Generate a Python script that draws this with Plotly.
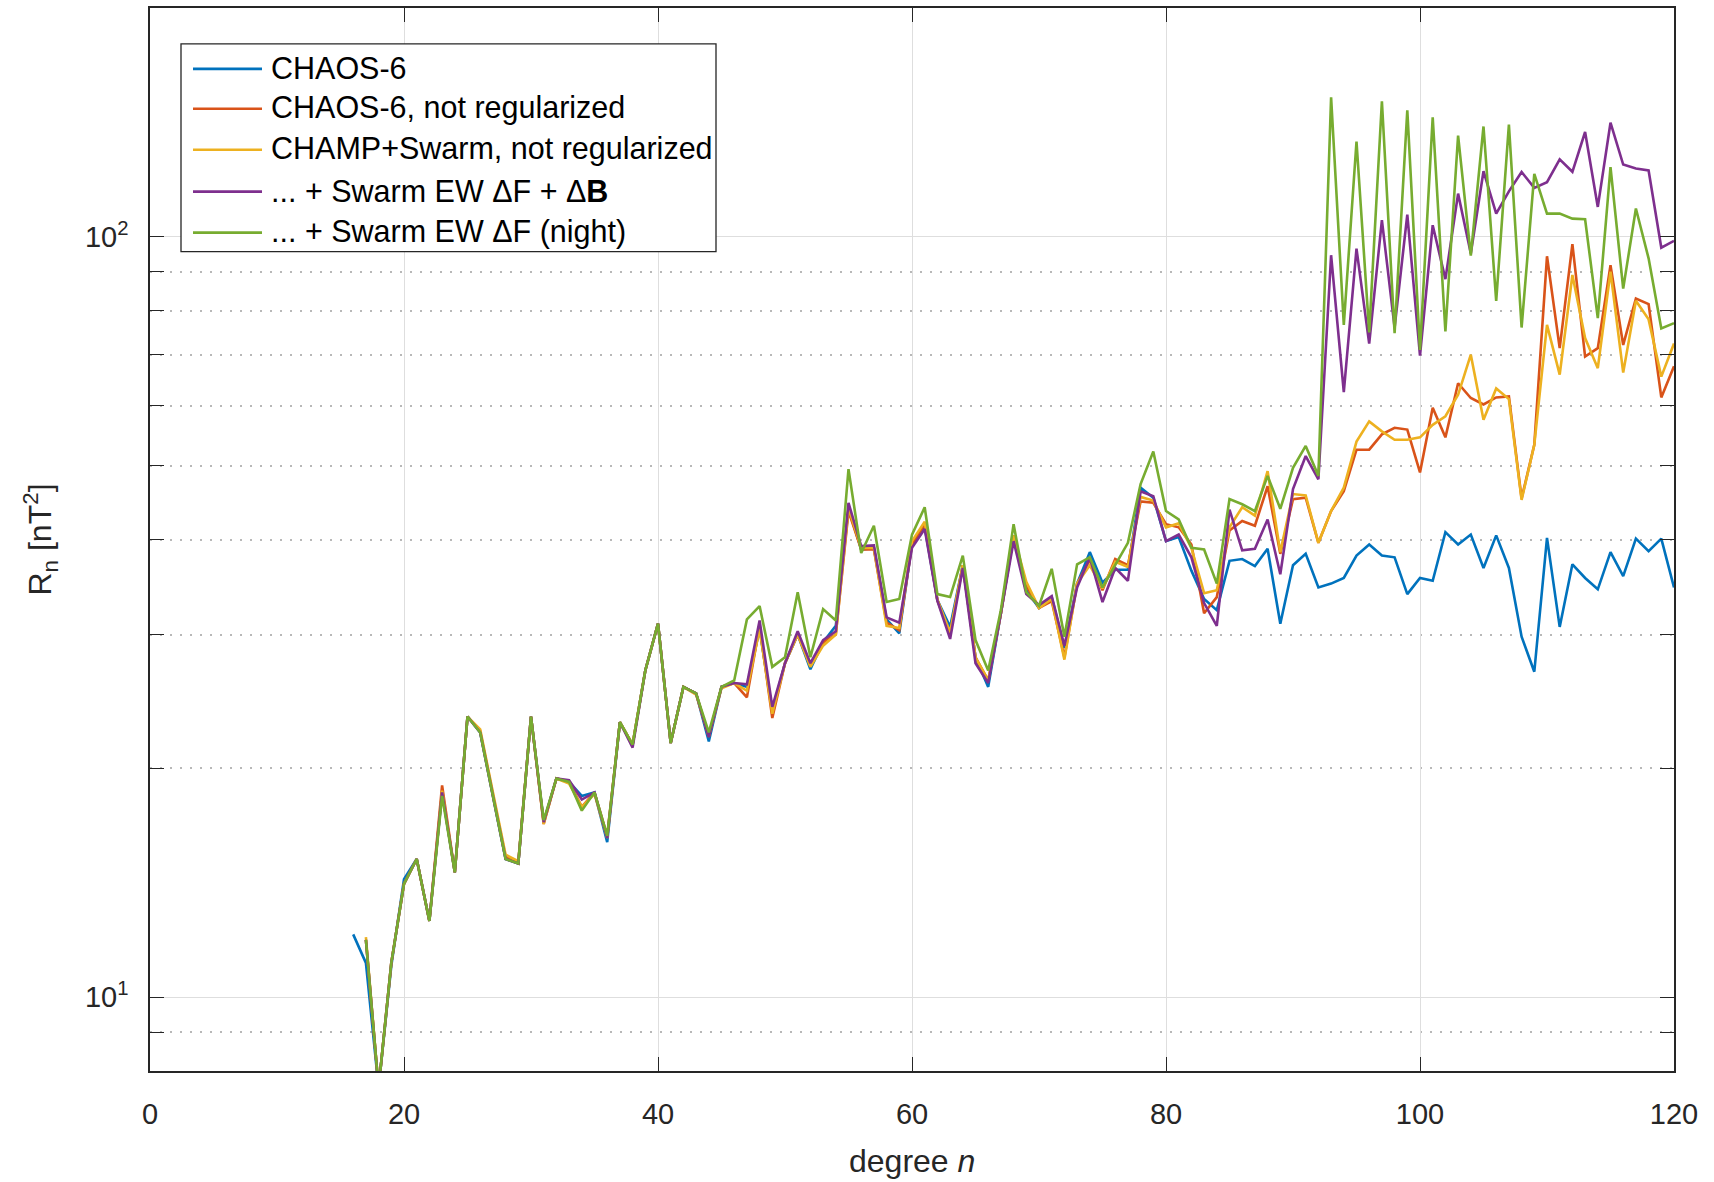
import plotly.graph_objects as go

# spherical harmonic degree
degree = list(range(16, 121))

# Lowes-Mauersberger spectra R_n [nT^2], n = 16 ... 120
chaos6 = [
    12.1, 11.1, 7.6, 11.0, 14.3, 15.2, 12.6, 18.6, 14.6, 23.4,
    22.3, 18.4, 15.2, 15.0, 23.4, 17.0, 19.4, 19.2, 18.4, 18.6,
    16.0, 23.0, 21.5, 26.9, 31.0, 21.6, 25.6, 25.1, 21.7, 25.6,
    25.9, 25.6, 30.5, 23.8, 27.5, 30.0, 27.0, 29.3, 30.8, 44.0,
    38.8, 39.0, 31.4, 30.1, 39.5, 41.5, 33.3, 30.7, 37.0, 28.0,
    25.6, 32.0, 40.5, 34.3, 32.5, 33.6, 28.8, 35.0, 38.5, 35.1,
    36.5, 36.5, 46.8, 45.4, 39.8, 40.3, 36.4, 33.4, 32.3, 37.5,
    37.7, 36.9, 38.9, 31.0, 37.0, 38.3, 34.6, 35.0, 35.6, 38.1,
    39.4, 38.1, 37.9, 33.9, 35.6, 35.3, 40.9, 39.4, 40.6, 36.7,
    40.5, 36.7, 29.8, 26.8, 40.2, 30.7, 37.1, 35.6, 34.4, 38.5,
    35.8, 40.1, 38.6, 40.1, 34.6,
]

chaos6_noreg = [
    None, 11.9, 7.6, 11.1, 14.1, 15.2, 12.6, 19.0, 14.6, 23.4,
    22.4, 18.5, 15.3, 15.0, 23.4, 16.9, 19.4, 19.2, 17.8, 18.6,
    16.3, 23.0, 21.5, 26.9, 31.0, 21.6, 25.6, 25.1, 22.0, 25.6,
    25.9, 24.8, 30.8, 23.3, 27.5, 30.0, 27.3, 29.3, 30.0, 43.6,
    38.8, 38.8, 31.1, 30.4, 39.4, 41.9, 33.3, 30.0, 37.0, 28.0,
    26.1, 32.0, 40.5, 34.8, 32.5, 33.2, 28.0, 35.0, 37.6, 34.3,
    37.7, 37.0, 44.9, 44.7, 41.9, 41.5, 39.4, 32.0, 33.6, 41.1,
    42.3, 41.7, 47.0, 38.3, 45.2, 45.4, 39.6, 43.6, 46.3, 52.5,
    52.5, 55.0, 56.1, 55.8, 49.0, 59.6, 54.5, 64.2, 61.4, 60.2,
    61.5, 61.7, 45.3, 53.3, 94.3, 71.4, 97.8, 69.6, 71.4, 91.8,
    72.1, 83.0, 81.6, 61.5, 67.6,
]

champ_swarm_noreg = [
    None, 12.0, 7.6, 11.1, 14.1, 15.2, 12.6, 18.7, 14.6, 23.4,
    22.5, 18.6, 15.4, 15.1, 23.4, 16.9, 19.4, 19.1, 17.8, 18.5,
    16.2, 23.0, 21.5, 26.9, 31.0, 21.6, 25.6, 25.0, 22.1, 25.5,
    25.9, 25.3, 30.5, 23.6, 27.5, 30.0, 27.2, 29.0, 30.0, 44.0,
    39.0, 39.0, 30.8, 30.6, 39.8, 42.2, 33.3, 30.2, 37.0, 28.0,
    26.1, 32.0, 40.5, 35.2, 32.5, 33.4, 27.8, 35.0, 37.0, 34.5,
    37.4, 36.8, 45.5, 45.0, 41.5, 42.0, 39.0, 34.0, 34.3, 41.5,
    44.1, 43.0, 49.2, 38.5, 45.9, 45.7, 39.6, 43.6, 46.8, 53.8,
    57.2, 55.5, 54.1, 54.1, 54.5, 56.6, 58.1, 62.0, 70.0, 57.5,
    63.2, 61.2, 45.1, 53.3, 76.6, 65.9, 89.1, 73.6, 67.2, 90.0,
    66.3, 82.4, 77.9, 65.5, 72.4,
]

swarm_ew_df_db = [
    None, 11.9, 7.6, 11.1, 14.1, 15.2, 12.6, 18.6, 14.6, 23.4,
    22.3, 18.4, 15.2, 15.0, 23.4, 17.0, 19.4, 19.3, 18.2, 18.6,
    16.2, 23.0, 21.3, 26.9, 31.0, 21.6, 25.6, 25.1, 22.0, 25.6,
    25.9, 25.8, 31.3, 24.1, 27.5, 30.3, 27.5, 29.5, 30.3, 44.7,
    39.2, 39.3, 31.6, 31.1, 39.0, 41.3, 33.2, 29.6, 36.7, 27.5,
    25.9, 32.0, 39.8, 33.9, 32.8, 33.7, 29.0, 34.6, 37.9, 33.1,
    36.7, 35.3, 46.3, 45.6, 39.8, 40.6, 37.9, 33.0, 30.8, 43.8,
    38.7, 38.9, 42.5, 36.0, 46.6, 51.5, 48.0, 94.6, 62.5, 96.5,
    72.4, 105.2, 76.0, 107.0, 69.8, 103.6, 88.0, 114.0, 95.1, 122.0,
    107.3, 114.8, 121.7, 116.0, 118.0, 126.5, 121.8, 137.4, 109.5, 141.3,
    124.5, 123.0, 122.3, 96.8, 98.8,
]

swarm_ew_df_night = [
    None, 11.9, 7.6, 11.1, 14.1, 15.2, 12.6, 18.4, 14.6, 23.4,
    22.3, 18.4, 15.2, 15.0, 23.4, 17.1, 19.4, 19.2, 17.6, 18.6,
    16.3, 23.0, 21.5, 26.9, 31.0, 21.6, 25.6, 25.1, 22.3, 25.6,
    26.1, 31.4, 32.7, 27.2, 28.0, 34.1, 28.0, 32.4, 31.3, 49.5,
    38.4, 41.7, 33.1, 33.4, 40.6, 44.1, 33.9, 33.6, 38.1, 29.5,
    26.9, 32.3, 41.9, 34.1, 32.7, 36.6, 29.8, 37.1, 37.9, 34.6,
    37.1, 39.6, 47.3, 52.2, 43.6, 42.5, 39.0, 38.8, 35.0, 45.2,
    44.5, 43.6, 48.5, 43.9, 49.7, 53.1, 48.5, 152.6, 76.6, 133.5,
    74.9, 150.8, 74.7, 146.7, 71.0, 143.6, 75.1, 135.9, 94.5, 139.7,
    82.4, 140.5, 76.0, 121.0, 107.3, 107.3, 105.7, 105.5, 78.2, 123.5,
    85.5, 109.0, 93.7, 75.8, 77.0,
]

series_names = [
    "CHAOS-6",
    "CHAOS-6, not regularized",
    "CHAMP+Swarm, not regularized",
    "... + Swarm EW \u0394F + \u0394<b>B</b>",
    "... + Swarm EW \u0394F (night)",
]
series_values = [chaos6, chaos6_noreg, champ_swarm_noreg, swarm_ew_df_db, swarm_ew_df_night]
colors = ["#0072BD", "#D95319", "#EDB120", "#7E2F8E", "#77AC30"]

x_ticks = [0, 20, 40, 60, 80, 100, 120]
y_major = [10, 100]
y_major_text = ["10<sup>1</sup>", "10<sup>2</sup>"]
y_minor = [9, 20, 30, 40, 50, 60, 70, 80, 90]

W, H = 1714, 1182
L, R, T, B = 150, 40, 6, 111
FONT = "Liberation Sans, Arial, Helvetica, sans-serif"
AX = "#262626"


def px(xp):
    return (xp - L) / (W - L - R)


def py(yp):
    return (H - B - yp) / (H - B - T)


fig = go.Figure()
for name, vals, col in zip(series_names, series_values, colors):
    fig.add_trace(go.Scatter(
        x=degree, y=vals, mode="lines", name=name,
        line=dict(color=col, width=2.6), showlegend=False,
    ))

# legend box drawn in paper coordinates
shapes = [dict(type="rect", xref="paper", yref="paper",
               x0=px(181), x1=px(716), y0=py(250), y1=py(42),
               line=dict(color=AX, width=1.3), fillcolor="white", layer="above")]
annotations = []
row_y = [66, 106, 147, 189, 230]
for name, col, yr in zip(series_names, colors, row_y):
    shapes.append(dict(type="line", xref="paper", yref="paper",
                       x0=px(193), x1=px(262), y0=py(yr + 1), y1=py(yr + 1),
                       line=dict(color=col, width=2.6), layer="above"))
    annotations.append(dict(xref="paper", yref="paper", x=px(269), y=py(yr),
                            text=name, showarrow=False, xanchor="left", yanchor="middle",
                            font=dict(family=FONT, size=30.5, color="#000000")))

annotations.append(dict(xref="paper", yref="paper", x=0.5, y=py(1161),
                        text="degree <i>n</i>", showarrow=False,
                        xanchor="center", yanchor="middle",
                        font=dict(family=FONT, size=32, color=AX)))
annotations.append(dict(xref="paper", yref="paper", x=px(40), y=0.5,
                        text="R<sub>n</sub> [nT<sup>2</sup>]", showarrow=False,
                        textangle=-90, xanchor="center", yanchor="middle",
                        font=dict(family=FONT, size=32, color=AX)))

fig.update_layout(
    width=W, height=H, autosize=False,
    margin=dict(l=L, r=R, t=T, b=B, pad=0),
    paper_bgcolor="white", plot_bgcolor="white",
    font=dict(family=FONT, size=29, color=AX),
    shapes=shapes, annotations=annotations,
    xaxis=dict(
        range=[0, 120], tickvals=x_ticks, ticks="inside", ticklen=14,
        tickwidth=1.3, tickcolor=AX, showline=True, linecolor=AX, linewidth=1.5,
        mirror="allticks", showgrid=True, gridcolor="#dedede", gridwidth=1.2,
        zeroline=False, ticklabelstandoff=16,
        tickfont=dict(family=FONT, size=29, color=AX),
    ),
    yaxis=dict(
        type="log", range=[0.90309, 2.30103],
        tickmode="array", tickvals=y_major, ticktext=y_major_text,
        ticks="inside", ticklen=14, tickwidth=1.3, tickcolor=AX,
        showline=True, linecolor=AX, linewidth=1.5, mirror="allticks",
        showgrid=True, gridcolor="#dedede", gridwidth=1.2, zeroline=False,
        ticklabelstandoff=14,
        tickfont=dict(family=FONT, size=29, color=AX),
        minor=dict(tickmode="array", tickvals=y_minor, ticks="inside", ticklen=14,
                   tickwidth=1.3, tickcolor=AX, showgrid=True,
                   gridcolor="#b8b8b8", griddash="2px,8px", gridwidth=2),
    ),
)

fig.write_html("out.html")
